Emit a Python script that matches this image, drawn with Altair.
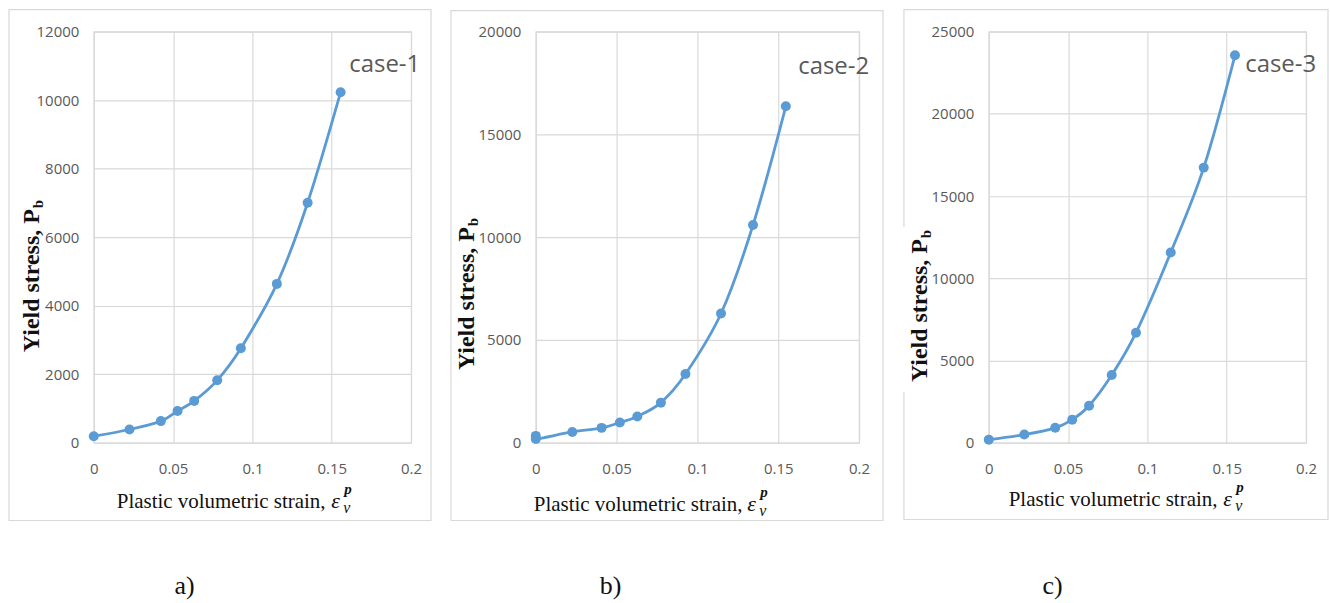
import altair as alt
import pandas as pd

# ---- data ----
x1 = [0, 0.0225, 0.0423, 0.0528, 0.0633, 0.0778, 0.0927, 0.1154, 0.1348, 0.1556]
y1 = [190, 385, 630, 925, 1220, 1820, 2755, 4635, 7005, 10230]

x2 = [0, 0, 0.0226, 0.0407, 0.0520, 0.0628, 0.0774, 0.0926, 0.1146, 0.1344, 0.1547]
y2 = [330, 180, 524, 720, 982, 1277, 1948, 3339, 6285, 10589, 16366]

x3 = [0, 0.0224, 0.0419, 0.0526, 0.0632, 0.0775, 0.0928, 0.1147, 0.1355, 0.1552]
y3 = [185, 494, 905, 1399, 2243, 4115, 6687, 11564, 16728, 23560]

x_ticks = [0, 0.05, 0.1, 0.15, 0.2]
y_ticks1 = [0, 2000, 4000, 6000, 8000, 10000, 12000]
y_ticks2 = [0, 5000, 10000, 15000, 20000]
y_ticks3 = [0, 5000, 10000, 15000, 20000, 25000]

cases = ["case-1", "case-2", "case-3"]
letters = ["a)", "b)", "c)"]
x_title = "Plastic volumetric strain,"
y_title = "Yield stress, P"

BLUE = "#5B9BD5"
GRID = "#d9d9d9"
LBL = "#595959"
INK = "#111111"
SERIF = "Liberation Serif"
SANS = "Open Sans"


def txt(text, x, y, **kw):
    return alt.Chart(pd.DataFrame({"t": [text]})).mark_text(**kw).encode(
        x=alt.value(x), y=alt.value(y), text="t:N")


def panel(xs, ys, yticks, case, letter, w, h, g):
    df = pd.DataFrame({"x": xs, "y": ys, "i": list(range(len(xs)))})
    common = dict(ticks=False, tickSize=0, domain=False, labelFlush=False,
                  labelFont=SANS, labelFontSize=15, labelColor=LBL,
                  gridColor=GRID, gridWidth=1.2, title=None)
    xenc = alt.X("x:Q", scale=alt.Scale(domain=[0, 0.2], nice=False, zero=False),
                 axis=alt.Axis(values=x_ticks, labelExpr="format(datum.value, '~g')",
                               labelPadding=19, **common))
    yenc = alt.Y("y:Q", scale=alt.Scale(domain=[0, yticks[-1]], nice=False),
                 axis=alt.Axis(values=yticks, format="d", labelPadding=15, **common))
    base = alt.Chart(df)
    border = alt.Chart(pd.DataFrame({"t": [0]})).mark_rect(
        fill="transparent", stroke=GRID, strokeWidth=1.2).encode(
        x=alt.value(g["bx0"]), x2=alt.value(g["bx1"]),
        y=alt.value(g["by0"]), y2=alt.value(g["by1"]))
    layers = [border]
    if g.get("patch"):
        layers.append(alt.Chart(pd.DataFrame({"t": [0]})).mark_rect(fill="white").encode(
            x=alt.value(g["bx0"] - 1.5), x2=alt.value(g["bx0"] + 2),
            y=alt.value(g["patch"][0]), y2=alt.value(g["patch"][1])))
    line = base.mark_line(interpolate="cardinal", color=BLUE, strokeWidth=2.8).encode(
        x=xenc, y=yenc, order="i:Q")
    pts = base.mark_circle(size=100, color=BLUE, opacity=1).encode(x="x:Q", y="y:Q")
    layers += [line, pts]
    # case label
    layers.append(txt(case, g["cx"], g["cy"], align="left", baseline="alphabetic",
                      font=SANS, fontSize=24, color=LBL))
    # y title (rotated) with subscript b
    layers.append(txt(y_title, g["yx"], g["yy"], angle=270, align="right",
                      baseline="alphabetic", font=SERIF, fontSize=24, fontWeight="bold",
                      color=INK))
    layers.append(txt("b", g["yx"] + 4, g["yy"] - 1, angle=270, align="left",
                      baseline="alphabetic", font=SERIF, fontSize=15, fontWeight="bold",
                      color=INK))
    # x title with epsilon_v^p
    layers.append(txt(x_title, g["tx"], g["ty"], align="left", baseline="alphabetic",
                      font=SERIF, fontSize=21, color=INK))
    layers.append(txt("ε", g["ex"], g["ty"], align="left", baseline="alphabetic",
                      font=SERIF, fontSize=22, fontStyle="italic", color=INK))
    layers.append(txt("p", g["ex"] + 13, g["ty"] - 14, align="left", baseline="alphabetic",
                      font=SERIF, fontSize=15, fontStyle="italic", fontWeight="bold",
                      color=INK))
    layers.append(txt("v", g["ex"] + 12, g["ty"] + 5, align="left", baseline="alphabetic",
                      font=SERIF, fontSize=16, fontStyle="italic", color=INK))
    # panel letter
    layers.append(txt(letter, g["lx"], 564, align="center", baseline="alphabetic",
                      font=SERIF, fontSize=26, color=INK))
    return alt.layer(*layers).properties(width=w, height=h)


H = 412
p1 = panel(x1, y1, y_ticks1, cases[0], letters[0], 318, H,
           dict(bx0=-85, bx1=338, by0=-22, by1=490, cx=256, cy=40,
                yx=-55, yy=178, tx=23, ty=477, ex=238, lx=91))
p2 = panel(x2, y2, y_ticks2, cases[1], letters[1], 324, H,
           dict(bx0=-85, bx1=348, by0=-21, by1=490, cx=263, cy=42,
                yx=-62, yy=196, tx=-2, ty=480, ex=212, lx=75))
p3 = panel(x3, y3, y_ticks3, cases[2], letters[2], 318, H,
           dict(bx0=-85, bx1=340, by0=-22, by1=489, cx=257, cy=40,
                yx=-62, yy=208, tx=20, ty=475, ex=235, lx=64, patch=(196, 361)))

chart = alt.hconcat(p1, p2, p3, spacing=16).properties(
    padding={"left": 7, "top": 7, "right": 0, "bottom": 0},
    background="white",
).configure_view(stroke=GRID, strokeWidth=1.2)

chart.save("out.html", embed_options={"renderer": "svg", "actions": False})
